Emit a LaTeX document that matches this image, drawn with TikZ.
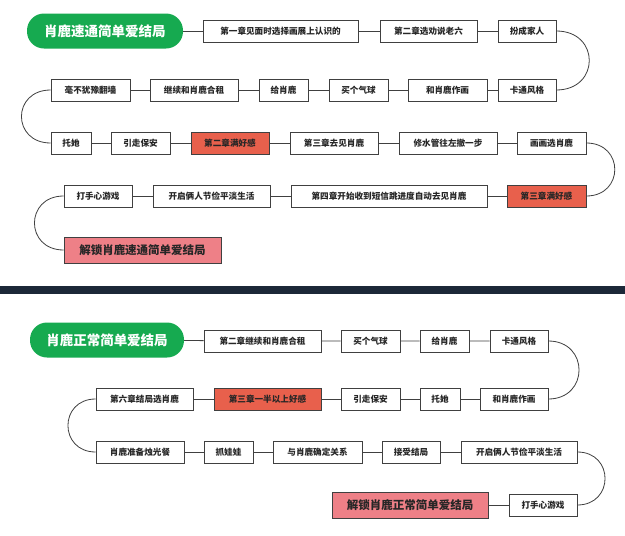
\documentclass[tikz,border=0pt]{standalone}
\usepackage{fontspec}
\setmainfont{Noto Sans CJK SC}
\begin{document}
\begin{tikzpicture}[x=1pt,y=-1pt,
  box/.style={draw=black!75,line width=0.6pt,fill=white,minimum height=22pt,inner sep=0pt,font=\fontsize{8.6}{9}\selectfont\bfseries,text=black!85},
  red/.style={box},
  pk/.style={box,minimum height=26pt,font=\fontsize{11.5}{12}\selectfont\bfseries},
  gr/.style={rounded corners=17pt,minimum height=35pt,inner sep=0pt,text=white,font=\fontsize{13.5}{14}\selectfont\bfseries},
  ln/.style={draw=black!75,line width=0.8pt}]
\useasboundingbox (0,0) rectangle (625,536);
\fill[white] (0,0) rectangle (625,536);
\fill[fill={rgb,255:red,28;green,40;blue,56}] (0,286) rectangle (625,294);
\definecolor{grn}{RGB}{22,170,80}
\definecolor{rd}{RGB}{232,96,76}
\definecolor{pnk}{RGB}{238,128,135}
\tikzset{gr/.append style={fill=grn},red/.append style={fill=rd},pk/.append style={fill=pnk}}
\newcommand\bx[6]{\node[#6,minimum width={#3-#2}] (#1) at ({(#2+#3)/2},#4) {#5};}
% top
\bx{t0}{27}{183}{31}{肖鹿速通简单爱结局}{gr}
\bx{a1}{203}{358}{31}{第一章见面时选择画展上认识的}{box}
\bx{a2}{380}{477}{31}{第二章选劝说老六}{box}
\bx{a3}{498}{556}{31}{扮成家人}{box}
\bx{b1}{498}{556}{90}{卡通风格}{box}
\bx{b2}{408}{487}{90}{和肖鹿作画}{box}
\bx{b3}{329}{388}{90}{买个气球}{box}
\bx{b4}{259}{308}{90}{给肖鹿}{box}
\bx{b5}{150}{238}{90}{继续和肖鹿合租}{box}
\bx{b6}{51}{130}{90}{毫不犹豫翻墙}{box}
\bx{c1}{51}{91}{143}{托她}{box}
\bx{c2}{111}{170}{143}{引走保安}{box}
\bx{c3}{191}{269}{143}{第二章满好感}{red}
\bx{c4}{290}{378}{143}{第三章去见肖鹿}{box}
\bx{c5}{399}{497}{143}{修水管往左撤一步}{box}
\bx{c6}{517}{586}{143}{画画选肖鹿}{box}
\bx{d1}{507}{586}{196}{第三章满好感}{red}
\bx{d2}{291}{487}{196}{第四章开始收到短信跳进度自动去见肖鹿}{box}
\bx{d3}{153}{270}{196}{开启俩人节俭平淡生活}{box}
\bx{d4}{64}{132}{196}{打手心游戏}{box}
\bx{e1}{64}{221}{250}{解锁肖鹿速通简单爱结局}{pk}
\draw[ln] (t0)--(a1) (a1)--(a2) (a2)--(a3);
\draw[ln] (a3.east) .. controls +(44,0) and +(44,0) .. (b1.east);
\draw[ln] (b1)--(b2) (b2)--(b3) (b3)--(b4) (b4)--(b5) (b5)--(b6);
\draw[ln] (b6.west) .. controls +(-39,0) and +(-39,0) .. (c1.west);
\draw[ln] (c1)--(c2) (c2)--(c3) (c3)--(c4) (c4)--(c5) (c5)--(c6);
\draw[ln] (c6.east) .. controls +(38,0) and +(38,0) .. (d1.east);
\draw[ln] (d1)--(d2) (d2)--(d3) (d3)--(d4);
\draw[ln] (d4.west) .. controls +(-39,0) and +(-39,0) .. (e1.west);
% bottom
\bx{s0}{30}{184}{340}{肖鹿正常简单爱结局}{gr}
\bx{f1}{204}{321}{341}{第二章继续和肖鹿合租}{box}
\bx{f2}{341}{400}{341}{买个气球}{box}
\bx{f3}{420}{469}{341}{给肖鹿}{box}
\bx{f4}{490}{548}{341}{卡通风格}{box}
\bx{g1}{480}{548}{399}{和肖鹿作画}{box}
\bx{g2}{420}{460}{399}{托她}{box}
\bx{g3}{341}{400}{399}{引走保安}{box}
\bx{g4}{214}{321}{399}{第三章一半以上好感}{red}
\bx{g5}{96}{193}{399}{第六章结局选肖鹿}{box}
\bx{h1}{96}{184}{452}{肖鹿准备烛光餐}{box}
\bx{h2}{204}{253}{452}{抓娃娃}{box}
\bx{h3}{273}{362}{452}{与肖鹿确定关系}{box}
\bx{h4}{382}{440}{452}{接受结局}{box}
\bx{h5}{461}{577}{452}{开启俩人节俭平淡生活}{box}
\bx{i1}{509}{577}{505}{打手心游戏}{box}
\bx{i2}{332}{488}{505}{解锁肖鹿正常简单爱结局}{pk}
\draw[ln] (s0)--(f1) (f1)--(f2) (f2)--(f3) (f3)--(f4);
\draw[ln] (f4.east) .. controls +(41,0) and +(41,0) .. (g1.east);
\draw[ln] (g1)--(g2) (g2)--(g3) (g3)--(g4) (g4)--(g5);
\draw[ln] (g5.west) .. controls +(-37,0) and +(-37,0) .. (h1.west);
\draw[ln] (h1)--(h2) (h2)--(h3) (h3)--(h4) (h4)--(h5);
\draw[ln] (h5.east) .. controls +(37,0) and +(37,0) .. (i1.east);
\draw[ln] (i1)--(i2);
\end{tikzpicture}
\end{document}
